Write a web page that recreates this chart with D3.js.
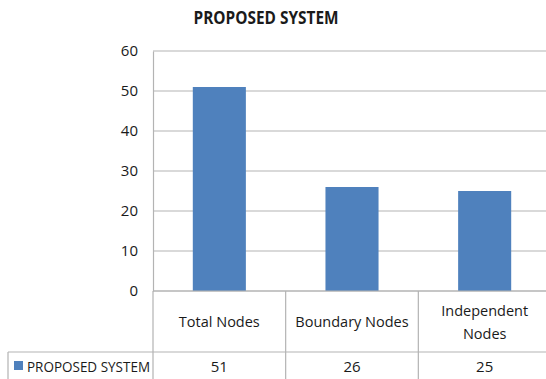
<!DOCTYPE html>
<html><head><meta charset="utf-8">
<script src="https://cdn.jsdelivr.net/npm/d3@7"></script>
<style>
body{margin:0;background:#fff;}
svg{display:block;}
text{font-family:"Open Sans",sans-serif;fill:#1a1a1a;}
</style></head>
<body><svg id="c" width="546" height="379"></svg>
<script>
const title = "PROPOSED SYSTEM";
const categories = ["Total Nodes", "Boundary Nodes", "Independent Nodes"];
const categoryLines = [["Total Nodes"], ["Boundary Nodes"], ["Independent", "Nodes"]];
const seriesName = "PROPOSED SYSTEM";
const values = [51, 26, 25];
const yTicks = [0, 10, 20, 30, 40, 50, 60];

(function () {
const svg = d3.select("#c");
const W = 546, H = 379;
const mLeft = 153, mRight = 551, mTop = 51, mBottom = 291;
const tableRow = 352;
const color = "#4f81bd", grid = "#b3b3b3";

const x = d3.scaleBand().domain(categories).range([mLeft, mRight]).paddingInner(0.6).paddingOuter(0.3);
const y = d3.scaleLinear().domain([0, 60]).range([mBottom, mTop]);

svg.append("text").attr("x", 266).attr("y", 24).attr("text-anchor", "middle")
  .attr("font-size", 17).attr("font-weight", "bold").attr("fill", "#111")
  .attr("textLength", 145).attr("lengthAdjust", "spacingAndGlyphs").text(title);

svg.append("g").selectAll("line").data(yTicks).join("line")
  .attr("x1", mLeft).attr("x2", W).attr("y1", d => y(d)).attr("y2", d => y(d))
  .attr("stroke", grid).attr("stroke-width", 1.2);

const yAxis = d3.axisLeft(y).tickValues(yTicks).tickSize(0).tickPadding(15);
const gy = svg.append("g").attr("transform", `translate(${mLeft},0)`).call(yAxis);
gy.select(".domain").attr("stroke", grid).attr("stroke-width", 1.2);
gy.selectAll("text").attr("font-size", 15).attr("fill", "#1a1a1a")
  .attr("font-family", '"Open Sans",sans-serif');

svg.append("g").selectAll("rect").data(values).join("rect")
  .attr("x", (d, i) => x(categories[i])).attr("width", x.bandwidth())
  .attr("y", d => y(d)).attr("height", d => y(0) - y(d)).attr("fill", color);

const step = x.step();
const edges = categories.map(c => x(c) - step * 0.3);
const tl = svg.append("g").attr("stroke", grid).attr("stroke-width", 1.2);
tl.append("line").attr("x1", mLeft).attr("x2", W).attr("y1", mBottom).attr("y2", mBottom);
tl.append("line").attr("x1", 8).attr("x2", W).attr("y1", tableRow).attr("y2", tableRow);
tl.append("line").attr("x1", 8).attr("x2", 8).attr("y1", tableRow).attr("y2", H);
edges.forEach(e => tl.append("line").attr("x1", e).attr("x2", e).attr("y1", mBottom).attr("y2", H));

categoryLines.forEach((lines, i) => {
  const cx = x(categories[i]) + x.bandwidth() / 2;
  const n = lines.length;
  lines.forEach((ln, j) => {
    svg.append("text").attr("x", cx).attr("y", 327 + (j - (n - 1) / 2) * 23)
      .attr("text-anchor", "middle").attr("font-size", 14.5).text(ln);
  });
  svg.append("text").attr("x", cx).attr("y", 372).attr("text-anchor", "middle")
    .attr("font-size", 15).text(values[i]);
});

svg.append("rect").attr("x", 14).attr("y", 361).attr("width", 9).attr("height", 9).attr("fill", color);
svg.append("text").attr("x", 27).attr("y", 372).attr("font-size", 15)
  .attr("textLength", 123).attr("lengthAdjust", "spacingAndGlyphs").text(seriesName);
})();
</script></body></html>
